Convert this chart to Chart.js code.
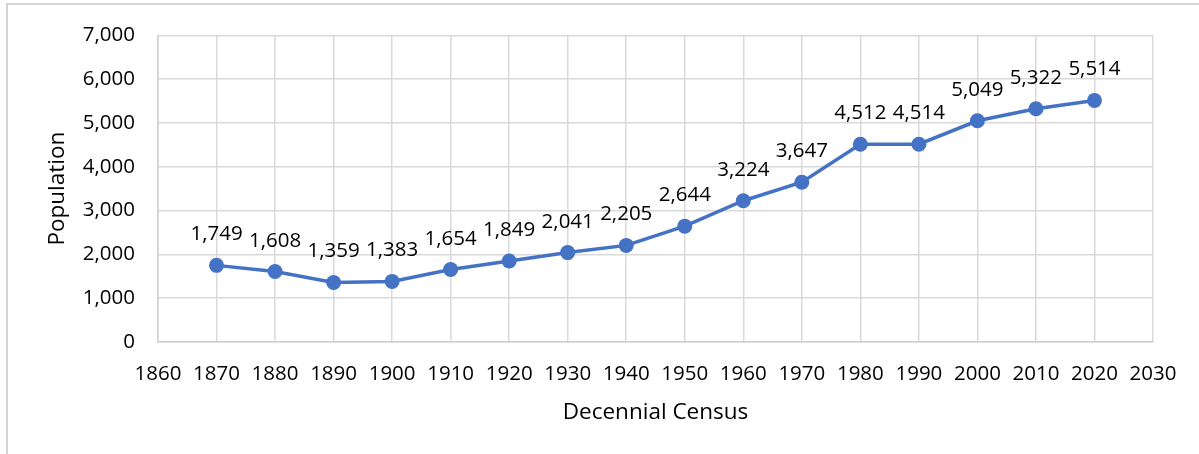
<!DOCTYPE html>
<html>
<head>
<meta charset="utf-8">
<script src="https://cdn.jsdelivr.net/npm/chart.js@4/dist/chart.umd.min.js"></script>
<style>
  html, body { margin: 0; padding: 0; background: #ffffff; }
  #wrap { position: relative; width: 1199px; height: 454px; overflow: hidden; }
  #frame { position: absolute; left: 6px; top: 3px; width: 1300px; height: 600px;
           border-left: 2px solid #d4d4d4; border-top: 2px solid #d4d4d4; box-sizing: border-box; }
  canvas { position: absolute; left: 0; top: 0; }
</style>
</head>
<body>
<div id="wrap">
  <div id="frame"></div>
  <canvas id="c" width="1199" height="454"></canvas>
</div>
<script>
const years = [1870, 1880, 1890, 1900, 1910, 1920, 1930, 1940, 1950, 1960, 1970, 1980, 1990, 2000, 2010, 2020];
const population = [1749, 1608, 1359, 1383, 1654, 1849, 2041, 2205, 2644, 3224, 3647, 4512, 4514, 5049, 5322, 5514];
const xAxisRange = [1860, 2030];
const yAxisRange = [0, 7000];
const xTitle = 'Decennial Census';
const yTitle = 'Population';

const FONT = "'Open Sans', sans-serif";
const fmt = v => v.toLocaleString('en-US');

const labelPlugin = {
  id: 'pointLabels',
  afterDatasetsDraw(chart) {
    const ctx = chart.ctx;
    const meta = chart.getDatasetMeta(0);
    ctx.save();
    ctx.font = "20.5px " + FONT;
    ctx.fillStyle = '#000000';
    ctx.textAlign = 'center';
    ctx.textBaseline = 'alphabetic';
    meta.data.forEach((pt, i) => {
      ctx.fillText(fmt(population[i]), pt.x, pt.y - 25);
    });
    ctx.restore();
  }
};

new Chart(document.getElementById('c'), {
  type: 'line',
  data: {
    datasets: [{
      data: years.map((y, i) => ({ x: y, y: population[i] })),
      borderColor: '#4472C4',
      backgroundColor: '#4472C4',
      borderWidth: 3.5,
      pointRadius: 7.5,
      pointBorderWidth: 0,
      pointBackgroundColor: '#4472C4',
      tension: 0
    }]
  },
  options: {
    responsive: false,
    animation: false,
    devicePixelRatio: 1,
    layout: { padding: { left: 0, top: 34, right: 46, bottom: 0 } },
    plugins: { legend: { display: false }, tooltip: { enabled: false } },
    scales: {
      x: {
        type: 'linear',
        min: xAxisRange[0], max: xAxisRange[1],
        afterFit(scale) { scale.height = 112; },
        grid: { color: '#d9d9d9', lineWidth: 1.5, drawTicks: false },
        border: { color: '#d0d0d0', width: 1.5 },
        ticks: { stepSize: 10, padding: 20, color: '#000000', font: { family: FONT, size: 20.5 },
                 callback: v => String(v), maxRotation: 0, autoSkip: false },
        title: { display: true, text: xTitle, color: '#000000', font: { family: FONT, size: 22.5 }, padding: { bottom: 28, top: 0 } }
      },
      y: {
        min: yAxisRange[0], max: yAxisRange[1],
        afterFit(scale) { scale.width = 158; },
        grid: { color: '#d9d9d9', lineWidth: 1.5, drawTicks: false },
        border: { color: '#d0d0d0', width: 1.5 },
        ticks: { stepSize: 1000, padding: 23, color: '#000000', font: { family: FONT, size: 20.5 },
                 callback: v => fmt(v) },
        title: { display: true, text: yTitle, color: '#000000', font: { family: FONT, size: 22.5 }, padding: { top: 44, bottom: 0 } }
      }
    }
  },
  plugins: [labelPlugin]
});
</script>
</body>
</html>
